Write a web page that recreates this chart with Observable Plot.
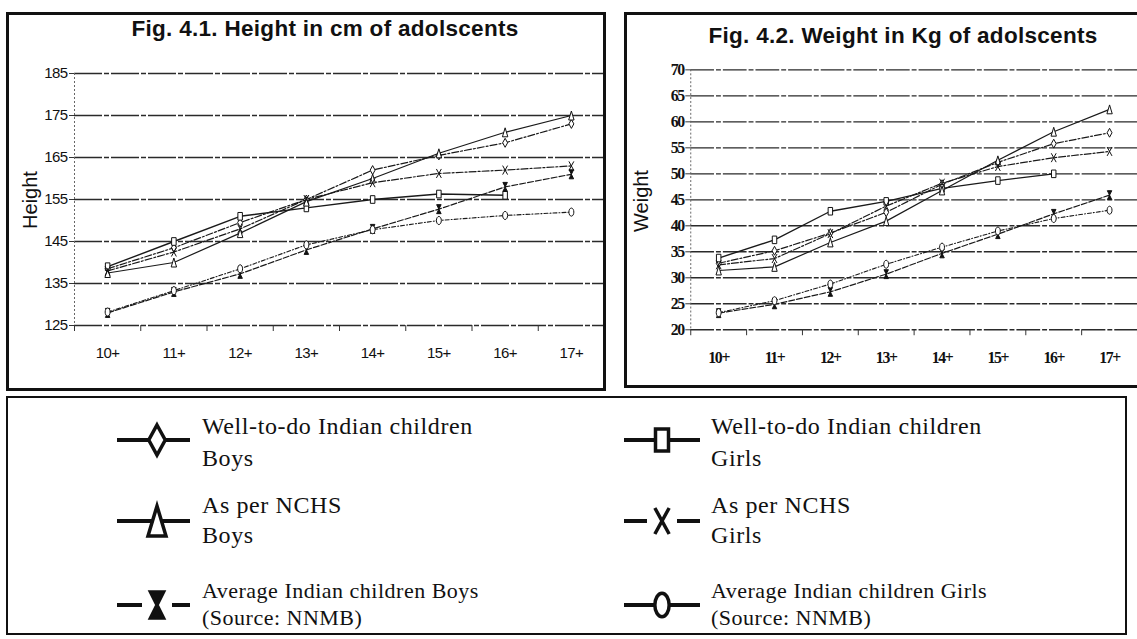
<!DOCTYPE html>
<html>
<head>
<meta charset="utf-8">
<script src="https://cdn.jsdelivr.net/npm/d3@7"></script>
<script src="https://cdn.jsdelivr.net/npm/@observablehq/plot@0.6"></script>
<style>
  html, body { margin: 0; padding: 0; background: #fff; width: 1137px; height: 639px; overflow: hidden; }
  body { position: relative; }
  .box { position: absolute; box-sizing: border-box; border: 3px solid #111; pointer-events: none; }
  .abs { position: absolute; }
  .title { position: absolute; font-family: "Liberation Sans", Arial, sans-serif; font-weight: bold; font-size: 22.5px; line-height: 22px; letter-spacing: 0.3px; text-align: center; color: #111; white-space: nowrap; }
  .ylab { position: absolute; font-family: "Liberation Sans", Arial, sans-serif; font-size: 20px; line-height: 20px; color: #111; transform: rotate(-90deg); transform-origin: center center; text-align: center; width: 100px; white-space: nowrap; }
  .leg { position: absolute; font-family: "Liberation Serif", "Times New Roman", serif; color: #111; white-space: nowrap; }
  .leg.big { font-size: 24px; letter-spacing: 0.6px; }
  .leg.small { font-size: 22px; line-height: 27px; letter-spacing: 0.5px; }
  #hchart svg text { font-size: 15px !important; font-family: "Liberation Sans", Arial, sans-serif; letter-spacing: -0.6px; fill: #111; }
  #wchart svg text { font-size: 16px !important; font-family: "Liberation Serif", "Times New Roman", serif; letter-spacing: -1.4px; fill: #111; font-weight: bold; }
</style>
</head>
<body>
<div id="hchart" class="abs" style="left:9px; top:15px;"></div>
<div id="wchart" class="abs" style="left:627px; top:15px;"></div>

<div class="box" style="left:6px; top:12px; width:600px; height:379px;"></div>
<div class="box" style="left:624px; top:12px; width:530px; height:376px;"></div>

<div class="title" style="left:0px; top:18px; width:650px;">Fig. 4.1. Height in cm of adolscents</div>
<div class="title" style="left:653px; top:25px; width:500px;">Fig. 4.2. Weight in Kg of adolscents</div>
<div class="ylab" style="left:-20px; top:190px;">Height</div>
<div class="ylab" style="left:591px; top:191px;">Weight</div>

<div class="box" style="left:6px; top:396px; width:1121px; height:239px; border-width:2px;"></div>
<svg id="legsym" class="abs" style="left:0; top:0;" width="1137" height="639"></svg>
<div id="legtext"></div>

<script>
// ---------- data ----------
const categories = ["10+", "11+", "12+", "13+", "14+", "15+", "16+", "17+"];

const seriesLabels = [
  ["Well-to-do Indian children", "Boys"],
  ["Well-to-do Indian children", "Girls"],
  ["As per NCHS", "Boys"],
  ["As per NCHS", "Girls"],
  ["Average Indian children Boys", "(Source: NNMB)"],
  ["Average Indian children Girls", "(Source: NNMB)"]
];

// Height in cm
const heightWellBoys  = [138.5, 143.5, 149.5, 155.0, 162.0, 165.5, 168.5, 173.0];
const heightWellGirls = [139.0, 145.0, 151.0, 153.0, 155.0, 156.3, 156.0, null];
const heightNchsBoys  = [137.5, 140.0, 147.0, 154.5, 160.0, 166.0, 171.0, 175.0];
const heightNchsGirls = [138.0, 142.5, 148.0, 155.0, 159.0, 161.2, 162.0, 163.0];
const heightAvgBoys   = [128.0, 133.0, 137.3, 143.0, 148.0, 152.7, 158.0, 161.0];
const heightAvgGirls  = [128.2, 133.3, 138.5, 144.2, 147.8, 150.0, 151.2, 152.0];

// Weight in kg
const weightWellBoys  = [32.8, 35.2, 38.6, 42.6, 48.0, 52.2, 55.8, 57.9];
const weightWellGirls = [33.8, 37.3, 42.8, 44.7, 47.2, 48.7, 50.0, null];
const weightNchsBoys  = [31.4, 32.1, 36.8, 40.9, 46.8, 52.6, 58.1, 62.4];
const weightNchsGirls = [32.5, 33.7, 38.5, 43.8, 48.2, 51.4, 53.1, 54.3];
const weightAvgBoys   = [23.2, 24.9, 27.3, 30.7, 34.7, 38.4, 42.3, 45.9];
const weightAvgGirls  = [23.3, 25.6, 28.8, 32.6, 35.9, 39.0, 41.4, 43.0];

const heightTicks = [125, 135, 145, 155, 165, 175, 185];
const weightTicks = [20, 25, 30, 35, 40, 45, 50, 55, 60, 65, 70];

// ---------- symbols ----------
const rad = size => Math.sqrt(size / Math.PI);
const symDiamond = {draw(c, size) { const r = rad(size), w = r * 0.55, h = r;
  c.moveTo(0, -h); c.lineTo(w, 0); c.lineTo(0, h); c.lineTo(-w, 0); c.closePath(); }};
const symRect = {draw(c, size) { const r = rad(size), w = r * 0.5, h = r * 0.85;
  c.rect(-w, -h, 2 * w, 2 * h); }};
const symTri = {draw(c, size) { const r = rad(size), w = r * 0.6, h = r;
  c.moveTo(0, -h); c.lineTo(w, h); c.lineTo(-w, h); c.closePath(); }};
const symX = {draw(c, size) { const r = rad(size), w = r * 0.55, h = r;
  c.moveTo(-w, -h); c.lineTo(w, h); c.moveTo(w, -h); c.lineTo(-w, h); }};
const symHour = {draw(c, size) { const r = rad(size), w = r * 0.5, h = r;
  c.moveTo(-w, -h); c.lineTo(w, -h); c.lineTo(-w, h); c.lineTo(w, h); c.closePath(); }};
const symEllipse = {draw(c, size) { const r = rad(size), w = r * 0.55, h = r * 0.9, k = 0.5523;
  c.moveTo(0, -h); c.bezierCurveTo(k * w, -h, w, -k * h, w, 0); c.bezierCurveTo(w, k * h, k * w, h, 0, h);
  c.bezierCurveTo(-k * w, h, -w, k * h, -w, 0); c.bezierCurveTo(-w, -k * h, -k * w, -h, 0, -h); c.closePath(); }};

const styles = [
  {symbol: symDiamond, fill: "white", dash: "7,2,2,2", sw: 1.2},
  {symbol: symRect,    fill: "white", dash: null,      sw: 1.4},
  {symbol: symTri,     fill: "white", dash: null,      sw: 1.2},
  {symbol: symX,       fill: "none",  dash: "7,2,2,2", sw: 1.2},
  {symbol: symHour,    fill: "#111",  dash: "6,2",     sw: 1.2},
  {symbol: symEllipse, fill: "white", dash: "4,2,1,2", sw: 1.1}
];

function chart({values, ticks, domain, width, height, ml, mt, mb, grid}) {
  const centers = categories.map((c, i) => i + 0.5);
  const bounds = d3.range(0, categories.length + 1);
  const marks = [
    Plot.gridY(ticks, {stroke: "#2a2a2a", strokeOpacity: 1, strokeWidth: 1.4, strokeDasharray: grid}),
    Plot.ruleX([0], {stroke: "#666", strokeWidth: 1, strokeDasharray: "2,2"}),
    Plot.axisY(ticks, {tickSize: 5, tickPadding: 2, label: null, stroke: "#333"}),
    Plot.axisX(bounds, {tickSize: 6, tickFormat: () => "", label: null, stroke: "#333"}),
    Plot.axisX(centers, {tickSize: 0, tickPadding: 22, label: null,
      tickFormat: d => categories[Math.round(d - 0.5)]})
  ];
  values.forEach((vals, k) => {
    const data = vals.map((v, i) => ({x: i + 0.5, y: v}));
    marks.push(Plot.line(data, {x: "x", y: "y", stroke: "#1a1a1a", strokeWidth: styles[k].sw,
      strokeDasharray: styles[k].dash}));
  });
  values.forEach((vals, k) => {
    const data = vals.map((v, i) => ({x: i + 0.5, y: v})).filter(d => d.y != null);
    marks.push(Plot.dot(data, {x: "x", y: "y", symbol: styles[k].symbol, r: 4.5,
      fill: styles[k].fill, stroke: "#111", strokeWidth: 1}));
  });
  return Plot.plot({
    width, height, marginLeft: ml, marginRight: 0, marginTop: mt, marginBottom: mb,
    x: {domain: [0, categories.length]},
    y: {domain},
    style: {color: "#111", background: "transparent", overflow: "visible"},
    marks
  });
}

document.getElementById("hchart").append(chart({
  values: [heightWellBoys, heightWellGirls, heightNchsBoys, heightNchsGirls, heightAvgBoys, heightAvgGirls],
  ticks: heightTicks, domain: [125, 185], width: 595, height: 373, ml: 65, mt: 58, mb: 63,
  grid: "28,2,5,2"
}));

document.getElementById("wchart").append(chart({
  values: [weightWellBoys, weightWellGirls, weightNchsBoys, weightNchsGirls, weightAvgBoys, weightAvgGirls],
  ticks: weightTicks, domain: [20, 70], width: 516, height: 370, ml: 64, mt: 55, mb: 52,
  grid: "24,2,5,2"
}));

// ---------- legend ----------
const legSvg = d3.select("#legsym");
const legCols = [{lx0: 117, lx1: 190, cx: 157, tx: 202}, {lx0: 624, lx1: 700, cx: 662, tx: 711}];
const legRows = [{y: 440, top: 410, cls: "big", lh: 32}, {y: 521, top: 490, cls: "big", lh: 30}, {y: 605, top: 577, cls: "small", lh: 27}];
const legendSym = [
  {sym: symDiamond, fill: "white", size: 15, gap: false},
  {sym: symRect,    fill: "white", size: 13, gap: false},
  {sym: symTri,     fill: "white", size: 15, gap: false},
  {sym: symX,       fill: "none",  size: 13, gap: true},
  {sym: symHour,    fill: "#111",  size: 13, gap: true},
  {sym: symEllipse, fill: "white", size: 13, gap: false}
];
seriesLabels.forEach((lab, k) => {
  const col = legCols[k % 2], row = legRows[Math.floor(k / 2)], s = legendSym[k];
  if (s.gap) {
    legSvg.append("line").attr("x1", col.lx0).attr("x2", col.cx - 15).attr("y1", row.y).attr("y2", row.y).attr("stroke", "#111").attr("stroke-width", 4);
    legSvg.append("line").attr("x1", col.cx + 15).attr("x2", col.lx1).attr("y1", row.y).attr("y2", row.y).attr("stroke", "#111").attr("stroke-width", 4);
  } else {
    legSvg.append("line").attr("x1", col.lx0).attr("x2", col.lx1).attr("y1", row.y).attr("y2", row.y).attr("stroke", "#111").attr("stroke-width", 4);
  }
  legSvg.append("path")
    .attr("d", d3.symbol(s.sym, s.size * s.size * Math.PI)())
    .attr("transform", `translate(${col.cx},${row.y})`)
    .attr("fill", s.fill).attr("stroke", "#111").attr("stroke-width", 3.5);
  const div = document.createElement("div");
  div.className = "leg " + row.cls;
  div.style.left = col.tx + "px";
  div.style.top = row.top + "px";
  div.style.lineHeight = row.lh + "px";
  div.innerHTML = `<div>${lab[0]}</div><div>${lab[1]}</div>`;
  document.getElementById("legtext").append(div);
});
</script>
</body>
</html>
